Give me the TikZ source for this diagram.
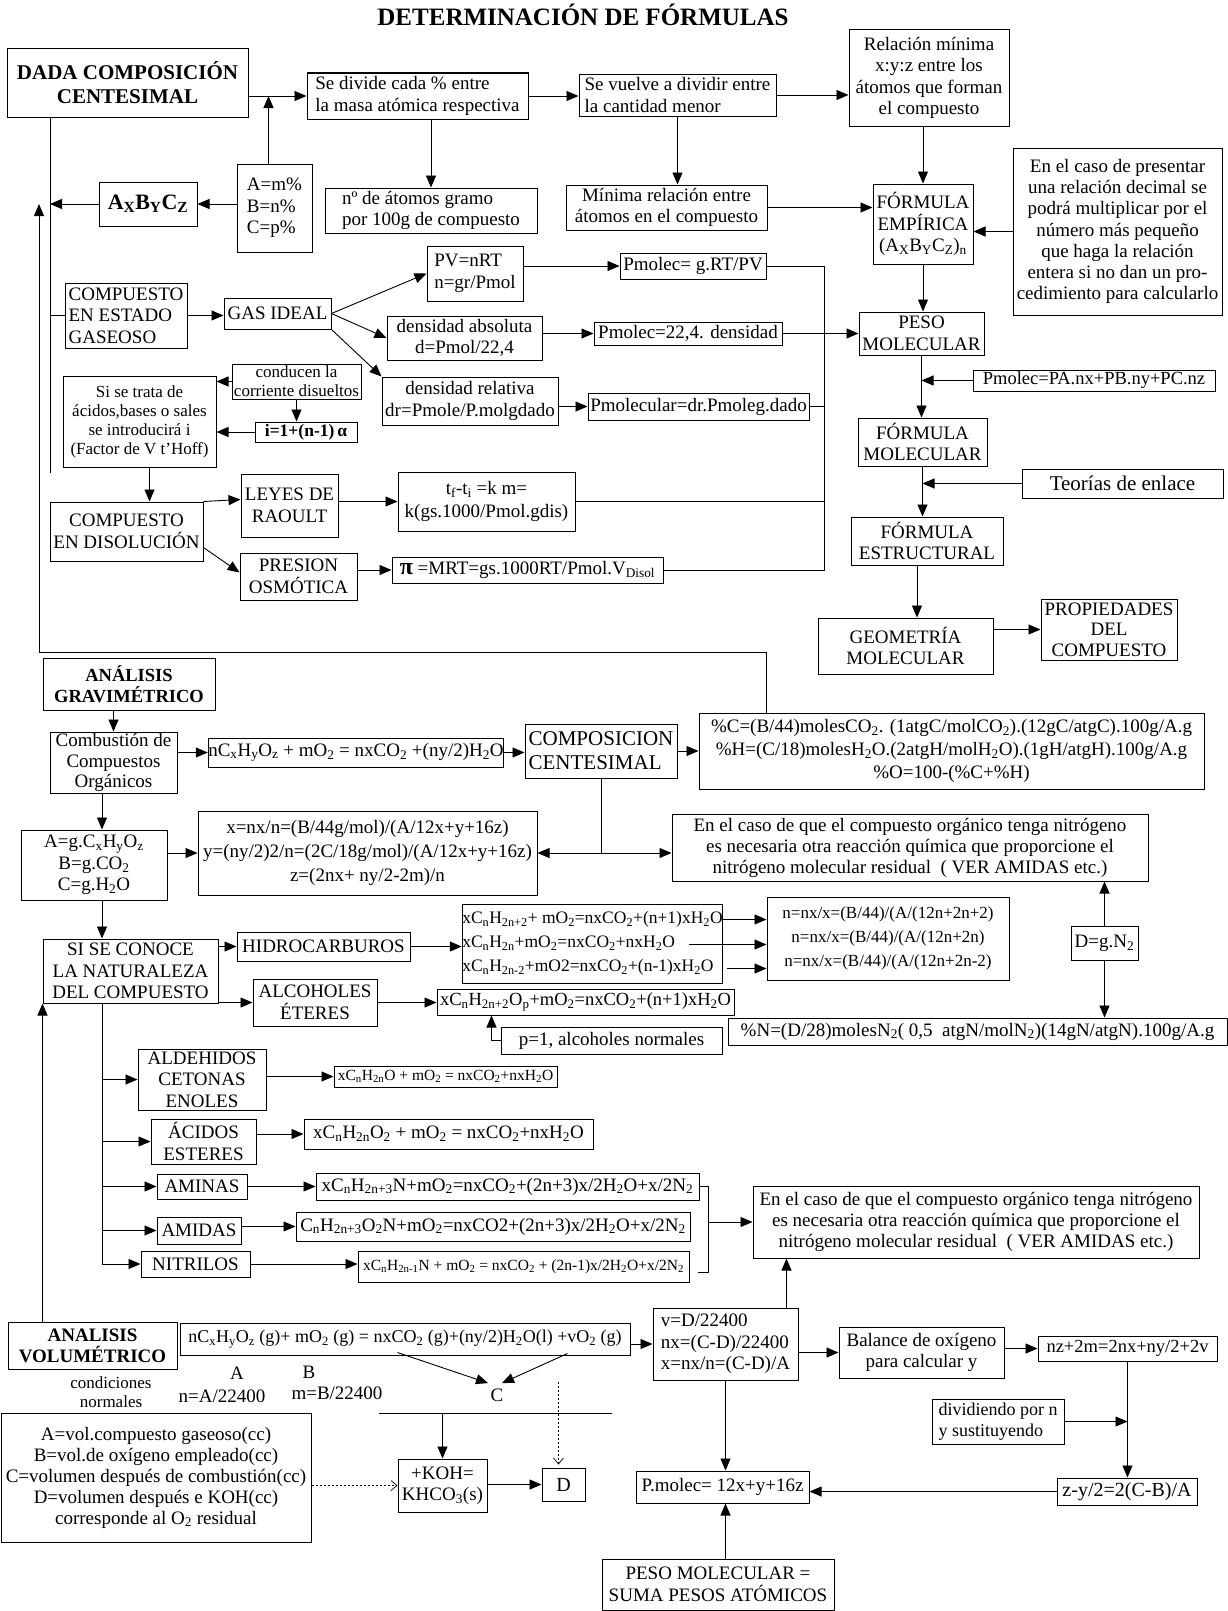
\documentclass[tikz,border=0pt]{standalone}
\usepackage{fontspec}
\setmainfont{Liberation Serif}
\usetikzlibrary{arrows.meta,calc}
\newcommand\sbs[1]{\textsubscript{#1}}
\newcommand\fn{\fontsize{19}{21.5}\selectfont}
\newcommand\fsm{\fontsize{17}{19}\selectfont}
\newcommand\fxs{\fontsize{15.5}{18}\selectfont}
\newcommand\bx[7][]{\node[box,minimum width={#5-#3},minimum height={#6-#4},#1] (#2) at ({(#3+#5)/2},{(#4+#6)/2}) {#7};}
\begin{document}
\begin{tikzpicture}[x=1pt,y=-1pt,
  box/.style={draw,line width=1pt,inner sep=0pt,align=center,font=\fn},
  ln/.style={line width=0.9pt},
  arr/.style={ln,-{Triangle[length=12pt,width=10pt]}},
  dar/.style={line width=0.7pt,dash pattern=on 2pt off 2pt,-{Straight Barb[length=6pt,width=10pt]}}]
\fill[white] (0,0) rectangle (1228,1611);
\useasboundingbox (0,0) rectangle (1228,1611);

\node[font=\bfseries\fontsize{25}{28}\selectfont] (title) at (583,15) {DETERMINACIÓN DE FÓRMULAS};

% ---------- upper part ----------
\bx[font=\bfseries\fontsize{21}{24}\selectfont]{dada}{7}{49}{248}{117}{DADA COMPOSICIÓN\\CENTESIMAL}
\bx[align=left]{sediv}{307}{73}{528}{119}{Se divide cada \% entre\\la masa atómica respectiva}
\bx[align=left]{atg}{325}{188}{537}{233}{nº de átomos gramo\\por 100g de compuesto}
\bx[align=left]{svuel}{579}{74}{776}{116}{Se vuelve a dividir entre\\la cantidad menor}
\bx{minrel}{566}{185}{767}{230}{Mínima relación entre\\átomos en el compuesto}
\bx{relmin}{849}{30}{1009}{126}{Relación mínima\\x:y:z entre los\\átomos que forman\\el compuesto}
\bx{femp}{873}{184}{973}{264}{FÓRMULA\\EMPÍRICA\\(A\sbs{X}B\sbs{Y}C\sbs{Z})\sbs{n}}
\bx[font=\fontsize{19}{21.3}\selectfont]{caso}{1013}{148}{1222}{315}{En el caso de presentar\\una relación decimal se\\podrá multiplicar por el\\número más pequeño\\que haga la relación\\entera si no dan un pro-\\cedimiento para calcularlo}
\bx{pesomol}{859}{312}{984}{355}{PESO\\MOLECULAR}
\bx[font=\fontsize{18.5}{21}\selectfont]{pmpa}{973}{370}{1215}{391}{Pmolec=PA.nx+PB.ny+PC.nz}
\bx{fmol}{858}{418}{987}{466}{FÓRMULA\\MOLECULAR}
\bx[font=\fontsize{21}{24}\selectfont]{teor}{1022}{469}{1223}{498}{Teorías de enlace}
\bx{fest}{851}{517}{1003}{565}{FÓRMULA\\ESTRUCTURAL}
\bx{geom}{818}{618}{993}{674}{GEOMETRÍA\\MOLECULAR}
\bx[font=\fontsize{19}{20.5}\selectfont]{prop}{1041}{599}{1177}{660}{PROPIEDADES\\DEL\\COMPUESTO}
\bx[align=left,font=\fontsize{19}{21.7}\selectfont]{amp}{237}{164}{312}{252}{A=m\%\\B=n\%\\C=p\%}
\bx[font=\bfseries\fontsize{22}{24}\selectfont]{axbycz}{99}{182}{197}{226}{A\sbs{X}B\sbs{Y}C\sbs{Z}}
\bx[align=left]{cgas}{65}{283}{187}{348}{COMPUESTO\\EN ESTADO\\GASEOSO}
\bx{gas}{224}{298}{331}{329}{GAS IDEAL}
\bx[align=left]{pv}{427}{246}{523}{301}{PV=nRT\\n=gr/Pmol}
\bx{pmg}{620}{253}{766}{279}{Pmolec= g.RT/PV}
\bx{dabs}{387}{316}{542}{360}{densidad absoluta\\d=Pmol/22,4}
\bx{p224}{594}{322}{782}{345}{Pmolec=22,4. densidad}
\bx{drel}{382}{377}{558}{425}{densidad relativa\\dr=Pmole/P.molgdado}
\bx{pmdr}{588}{393}{809}{420}{Pmolecular=dr.Pmoleg.dado}
\bx[font=\fsm]{cond}{232}{364}{361}{399}{conducen la\\corriente disueltos}
\bx[font=\fsm]{sitrata}{63}{376}{216}{467}{Si se trata de\\ácidos,bases o sales\\se introducirá i\\(Factor de V t'Hoff)}
\bx[font=\bfseries\fontsize{17.5}{20}\selectfont]{ifac}{255}{422}{357}{442}{i=1+(n-1)\,α}
\bx{cdis}{50}{502}{203}{561}{COMPUESTO\\EN DISOLUCIÓN}
\bx{raoult}{241}{474}{338}{537}{LEYES DE\\RAOULT}
\bx{posm}{240}{553}{357}{600}{PRESION\\OSMÓTICA}
\bx[font=\fontsize{19}{23}\selectfont]{tfti}{398}{472}{575}{531}{t\sbs{f}-t\sbs{i} =k m=\\k(gs.1000/Pmol.gdis)}
\bx{pieq}{392}{557}{663}{583}{{\bfseries\fontsize{24}{24}\selectfont π} =MRT=gs.1000RT/Pmol.V\sbs{Disol}}

% upper connectors
\coordinate (t1) at (50,473);
\draw[ln] (dada.south -| t1) -- (t1);
\draw[arr] (axbycz.west) -- (axbycz.west -| t1);
\draw[arr] (dada.east |- sediv.west) -- (sediv.west);
\coordinate (ampn) at ($(amp.north)+(-6,0)$);
\draw[arr] (ampn) -- (ampn |- sediv.west);
\draw[arr] (amp.west |- axbycz.east) -- (axbycz.east);
\draw[arr] (atg.north |- sediv.south) -- (atg.north);
\draw[arr] (sediv.east) -- (svuel.west |- sediv.east);
\draw[arr] (svuel.south) -- (svuel.south |- minrel.north);
\draw[arr] (svuel.east) -- (relmin.west |- svuel.east);
\draw[arr] (femp.north |- relmin.south) -- (femp.north);
\draw[arr] (minrel.east) -- (femp.west |- minrel.east);
\draw[arr] (caso.west) -- (femp.east |- caso.west);
\draw[arr] (femp.south) -- (femp.south |- pesomol.north);
\draw[arr] (pmpa.west) -- (pmpa.west -| pesomol.south);
\draw[arr] (pesomol.south) -- (pesomol.south |- fmol.north);
\draw[arr] (teor.west) -- (teor.west -| fmol.south);
\draw[arr] (fmol.south) -- (fmol.south |- fest.north);
\coordinate (fs) at ($(fest.south)+(-10,0)$);
\draw[arr] (fs) -- (fs |- geom.north);
\draw[arr] (geom.east |- prop.west) -- (prop.west);

\draw[ln] (cgas.west -| t1) -- (cgas.west);
\draw[arr] (cgas.east) -- (gas.west |- cgas.east);
\draw[arr] (gas.east) -- (pv.west);
\draw[arr] (gas.east) -- (dabs.west);
\draw[arr] (gas.south east) -- (drel.north west);
\draw[arr] (pv.east |- pmg.west) -- (pmg.west);
\draw[arr] (dabs.east |- p224.west) -- (p224.west);
\draw[arr] (p224.east) -- (pesomol.west |- p224.east);
\draw[arr] (drel.east |- pmdr.west) -- (pmdr.west);
\coordinate (col) at (824,0);
\draw[ln] (pmg.east) -- (pmg.east -| col) -- (pieq.east -| col) -- (pieq.east);
\draw[ln] (pmdr.east) -- (pmdr.east -| col);
\draw[ln] (tfti.east) -- (tfti.east -| col);
\draw[arr] (cond.west) -- (sitrata.east |- cond.west);
\draw[arr] (cond.south) -- (cond.south |- ifac.north);
\draw[arr] (ifac.west) -- (sitrata.east |- ifac.west);
\coordinate (ss) at ($(sitrata.south)+(10,0)$);
\draw[arr] (ss) -- (ss |- cdis.north);
\draw[arr] (cdis.north east) -- ($(raoult.west)+(0,-6)$);
\draw[arr] ($(cdis.south east)+(0,-14)$) -- ($(posm.west)+(0,-4)$);
\draw[arr] (raoult.east |- tfti.west) -- (tfti.west);
\draw[arr] (posm.east |- pieq.west) -- (pieq.west);

% ---------- lower part ----------
\bx[font=\bfseries\fontsize{18.5}{21}\selectfont]{agrav}{43}{658}{215}{710}{ANÁLISIS\\GRAVIMÉTRICO}
\bx[font=\fontsize{19}{20.8}\selectfont]{comb}{50}{732}{177}{793}{Combustión de\\Compuestos\\Orgánicos}
\bx{ncomb}{210}{738}{502}{767}{nC\sbs{x}H\sbs{y}O\sbs{z} + mO\sbs{2} = nxCO\sbs{2} +(ny/2)H\sbs{2}O}
\bx[align=left,font=\fontsize{21}{24}\selectfont]{compc}{525}{724}{677}{778}{COMPOSICION\\CENTESIMAL}
\bx[font=\fontsize{19}{23}\selectfont]{pct}{699}{713}{1204}{789}{\%C=(B/44)molesCO\sbs{2}. (1atgC/molCO\sbs{2}).(12gC/atgC).100g/A.g\\\%H=(C/18)molesH\sbs{2}O.(2atgH/molH\sbs{2}O).(1gH/atgH).100g/A.g\\\%O=100-(\%C+\%H)}
\bx{ag}{21}{830}{167}{900}{A=g.C\sbs{x}H\sbs{y}O\sbs{z}\\B=g.CO\sbs{2}\\C=g.H\sbs{2}O}
\bx[font=\fontsize{19}{24}\selectfont]{xnx}{198}{811}{537}{895}{x=nx/n=(B/44g/mol)/(A/12x+y+16z)\\y=(ny/2)2/n=(2C/18g/mol)/(A/12x+y+16z)\\z=(2nx+ ny/2-2m)/n}
\bx[font=\fontsize{19}{21}\selectfont]{caso1}{672}{814}{1148}{881}{En el caso de que el compuesto orgánico tenga nitrógeno\\es necesaria otra reacción química que proporcione el\\nitrógeno molecular residual~~( VER AMIDAS etc.)}
\bx{siconoce}{43}{939}{218}{1003}{SI SE CONOCE\\LA NATURALEZA\\DEL COMPUESTO}
\bx{hidro}{237}{932}{410}{961}{HIDROCARBUROS}
\bx{alco}{253}{979}{377}{1026}{ALCOHOLES\\ÉTERES}
\bx[align=left,font=\fontsize{17.5}{24}\selectfont]{hideq}{468}{904}{717}{983}{xC\sbs{n}H\sbs{2n+2}+ mO\sbs{2}=nxCO\sbs{2}+(n+1)xH\sbs{2}O\\xC\sbs{n}H\sbs{2n}+mO\sbs{2}=nxCO\sbs{2}+nxH\sbs{2}O\\xC\sbs{n}H\sbs{2n-2}+mO2=nxCO\sbs{2}+(n-1)xH\sbs{2}O}
\bx[font=\fontsize{17}{24}\selectfont]{nnx}{767}{897}{1009}{980}{n=nx/x=(B/44)/(A/(12n+2n+2)\\n=nx/x=(B/44)/(A/(12n+2n)\\n=nx/x=(B/44)/(A/(12n+2n-2)}
\bx{dgn}{1071}{926}{1138}{960}{D=g.N\sbs{2}}
\bx{pn}{728}{1018}{1227}{1045}{\%N=(D/28)molesN\sbs{2}( 0,5~~atgN/molN\sbs{2})(14gN/atgN).100g/A.g}
\bx[font=\fontsize{18.5}{21}\selectfont]{alceq}{437}{989}{734}{1015}{xC\sbs{n}H\sbs{2n+2}O\sbs{p}+mO\sbs{2}=nxCO\sbs{2}+(n+1)xH\sbs{2}O}
\bx{p1}{501}{1027}{722}{1054}{p=1, alcoholes normales}
\bx{aldeh}{138}{1049}{266}{1110}{ALDEHIDOS\\CETONAS\\ENOLES}
\bx[font=\fxs]{aldeq}{334}{1066}{557}{1087}{xC\sbs{n}H\sbs{2n}O + mO\sbs{2} = nxCO\sbs{2}+nxH\sbs{2}O}
\bx{acid}{151}{1119}{256}{1164}{ÁCIDOS\\ESTERES}
\bx{acideq}{304}{1119}{593}{1149}{xC\sbs{n}H\sbs{2n}O\sbs{2} + mO\sbs{2} = nxCO\sbs{2}+nxH\sbs{2}O}
\bx{amin}{157}{1174}{247}{1199}{AMINAS}
\bx{amineq}{316}{1173}{699}{1200}{xC\sbs{n}H\sbs{2n+3}N+mO\sbs{2}=nxCO\sbs{2}+(2n+3)x/2H\sbs{2}O+x/2N\sbs{2}}
\bx{amid}{157}{1217}{241}{1244}{AMIDAS}
\bx{amideq}{296}{1212}{690}{1241}{C\sbs{n}H\sbs{2n+3}O\sbs{2}N+mO\sbs{2}=nxCO2+(2n+3)x/2H\sbs{2}O+x/2N\sbs{2}}
\bx{nitr}{141}{1251}{250}{1277}{NITRILOS}
\bx[font=\fxs]{nitreq}{358}{1251}{689}{1282}{xC\sbs{n}H\sbs{2n-1}N + mO\sbs{2} = nxCO\sbs{2} + (2n-1)x/2H\sbs{2}O+x/2N\sbs{2}}
\bx[font=\fontsize{19}{21}\selectfont]{caso2}{753}{1186}{1199}{1258}{En el caso de que el compuesto orgánico tenga nitrógeno\\es necesaria otra reacción química que proporcione el\\nitrógeno molecular residual~~( VER AMIDAS etc.)}
\bx[font=\bfseries\fontsize{19}{21}\selectfont]{avol}{8}{1322}{177}{1369}{ANALISIS\\VOLUMÉTRICO}
\node[font=\fsm,align=center] (condn) at (111,1392) {condiciones\\normales};
\bx[font=\fontsize{18}{21}\selectfont]{voleq}{180}{1323}{630}{1355}{nC\sbs{x}H\sbs{y}O\sbs{z} (g)+ mO\sbs{2} (g) = nxCO\sbs{2} (g)+(ny/2)H\sbs{2}O(l) +vO\sbs{2} (g)}
\node[font=\fn] (la) at (237,1373) {A};
\node[font=\fn] (lb) at (309,1372) {B};
\node[font=\fn] (na) at (222,1396) {n=A/22400};
\node[font=\fn] (mb) at (337,1393) {m=B/22400};
\node[font=\fn] (clab) at (497,1395) {C};
\bx{koh}{398}{1459}{487}{1512}{+KOH=\\KHCO\sbs{3}(s)}
\bx[font=\fontsize{20}{22}\selectfont]{dbox}{542}{1468}{585}{1501}{D}
\bx[font=\fontsize{19}{21}\selectfont]{avolbox}{1}{1413}{311}{1542}{A=vol.compuesto gaseoso(cc)\\B=vol.de oxígeno empleado(cc)\\C=volumen después de combustión(cc)\\D=volumen después e KOH(cc)\\corresponde al O\sbs{2} residual}
\bx[align=left]{vd}{653}{1308}{798}{1380}{v=D/22400\\nx=(C-D)/22400\\x=nx/n=(C-D)/A}
\bx{bal}{839}{1327}{1004}{1378}{Balance de oxígeno\\para calcular y}
\bx[font=\fontsize{18.5}{21}\selectfont]{nz}{1038}{1336}{1217}{1361}{nz+2m=2nx+ny/2+2v}
\bx[align=left,font=\fontsize{18}{21}\selectfont]{divid}{932}{1399}{1064}{1444}{dividiendo por n\\y sustituyendo}
\bx[font=\fontsize{20}{22}\selectfont]{zy}{1057}{1478}{1197}{1505}{z-y/2=2(C-B)/A}
\bx{pmol}{636}{1471}{809}{1503}{P.molec= 12x+y+16z}
\bx{pesosum}{602}{1559}{834}{1610}{PESO MOLECULAR =\\SUMA PESOS ATÓMICOS}

% return line
\coordinate (r1) at (766,652);
\coordinate (r2) at (39,652);
\draw[arr] (r1 |- pct.north) -- (r1) -- (r2) -- (r2 |- axbycz.west);

% lower connectors
\draw[arr] (comb.north |- agrav.south) -- (comb.north);
\draw[arr] (comb.east |- ncomb.west) -- (ncomb.west);
\draw[arr] (ncomb.east) -- (compc.west |- ncomb.east);
\draw[arr] (compc.east) -- (pct.west |- compc.east);
\coordinate (gx) at (102,0);
\draw[arr] (comb.south -| gx) -- (ag.north -| gx);
\draw[arr] (ag.east |- xnx.west) -- (xnx.west);
\coordinate (sp) at (compc.south |- xnx.east);
\draw[ln] (compc.south) -- (sp);
\draw[arr] (sp) -- (xnx.east);
\draw[arr] (sp) -- (caso1.west |- sp);
\draw[arr] (ag.south -| gx) -- (siconoce.north -| gx);
\draw[arr] (siconoce.east |- hidro.west) -- (hidro.west);
\draw[arr] (siconoce.east |- alco.west) -- (alco.west);
\draw[arr] (hidro.east) -- (hideq.west |- hidro.east);
\coordinate (h1) at ($(hideq.north east)+(0,16)$);
\coordinate (h2) at ($(hideq.east)+(-34,1)$);
\coordinate (h3) at ($(hideq.south east)+(4,-15)$);
\draw[arr] (h1) -- (h1 -| nnx.west);
\draw[arr] (h2) -- (h2 -| nnx.west);
\draw[arr] (h3) -- (h3 -| nnx.west);
\draw[arr] (dgn.north) -- (dgn.north |- caso1.south);
\draw[arr] (dgn.south) -- (dgn.south |- pn.north);
\draw[arr] (alco.east) -- (alceq.west |- alco.east);
\coordinate (pa) at ($(alceq.south west)+(55,0)$);
\draw[arr] (p1.west) -| (pa);
\draw[ln] (siconoce.south -| gx) -- (nitr.west -| gx);
\foreach \n in {aldeh,acid,amin,amid,nitr} \draw[arr] (\n.west -| gx) -- (\n.west);
\draw[arr] (aldeh.east |- aldeq.west) -- (aldeq.west);
\draw[arr] (acid.east |- acideq.west) -- (acideq.west);
\draw[arr] (amin.east) -- (amineq.west |- amin.east);
\draw[arr] (amid.east |- amideq.west) -- (amideq.west);
\draw[arr] (nitr.east) -- (nitreq.west |- nitr.east);
\coordinate (bxr) at (708,0);
\draw[ln] (amineq.east) -- (amineq.east -| bxr) -- ($(nitreq.east -| bxr)+(0,6)$) -- ($(nitreq.east)+(8,6)$);
\draw[arr] (bxr |- caso2.west) -- (caso2.west);

\draw[arr] (avol.north -| siconoce.south west) -- (siconoce.south west);
\draw[arr] (voleq.east |- vd.west) -- (vd.west);
\draw[arr] ($(voleq.south west)+(218,-3)$) -- ($(clab.north)+(-9,-2)$);
\draw[arr] ($(voleq.south west)+(388,-2)$) -- ($(clab.north)+(5,-2)$);
\coordinate (hl1) at (379,1413);
\coordinate (hl2) at (612,1413);
\draw[ln] (hl1) -- (hl2);
\draw[arr] (koh.north |- hl1) -- (koh.north);
\draw[dar] (avolbox.east |- koh.west) -- (koh.west);
\coordinate (dt) at ($(dbox.north)+(-5,-86)$);
\draw[dar] (dt) -- ($(dbox.north)+(-5,-3)$);
\draw[arr] (koh.east |- dbox.west) -- (dbox.west);
\coordinate (vu) at ($(vd.north east)+(-12,0)$);
\draw[arr] (vu) -- (vu |- caso2.south);
\draw[arr] (vd.east |- bal.west) -- (bal.west);
\draw[arr] (bal.east |- nz.west) -- (nz.west);
\draw[arr] (nz.south) -- (nz.south |- zy.north);
\draw[arr] (divid.east) -- (divid.east -| nz.south);
\draw[arr] (zy.west) -- (pmol.east |- zy.west);
\draw[arr] (vd.south) -- (vd.south |- pmol.north);
\draw[arr] (pesosum.north -| vd.south) -- (pmol.south -| vd.south);
\end{tikzpicture}
\end{document}
